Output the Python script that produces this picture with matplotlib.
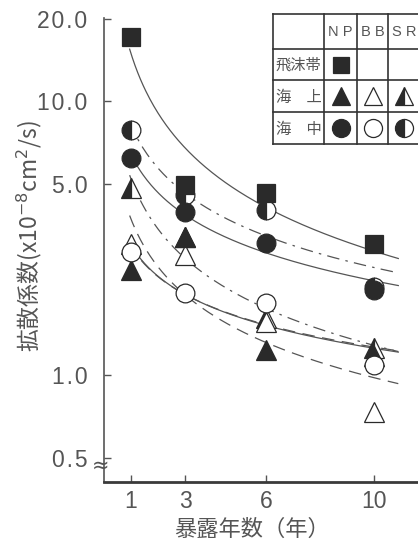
import numpy as np
import matplotlib
matplotlib.use("Agg")
import matplotlib.pyplot as plt
from matplotlib.ticker import FixedLocator, NullLocator, FuncFormatter

plt.rcParams['font.family'] = ['Liberation Sans', 'DejaVu Sans']

# exposure years
years = np.array([1, 3, 6, 10])

# diffusion coefficient (x10^-8 cm2/s)
np_splash = [17.1, 4.94, 4.61, 3.0]   # NP 飛沫帯
np_air = [2.42, 3.2, 1.23, 1.17]      # NP 海上
bb_air = [3.0, 2.74, 1.56, 0.73]      # BB 海上
sr_air = [4.81, 3.2, 1.62, 1.25]      # SR 海上 (x=3 hidden under NP)
np_sea = [6.19, 3.93, 3.03, 2.05]     # NP 海中
bb_sea = [2.81, 2.0, 1.83, 1.09]      # BB 海中
sr_sea = [7.84, 4.54, 4.0, 2.1]       # SR 海中

y_ticks = [0.5, 1.0, 5.0, 10.0, 20.0]
x_ticks = [1, 3, 6, 10]
sites = ['N P', 'B B', 'S R']
zones = ['飛沫帯', '海　上', '海　中']

DARK = '#2a2a2a'
GRAY = '#555555'
CJK = ['Noto Sans CJK JP', 'DejaVu Sans']

DASHED = (0, (10, 6))
DASHDOT = (0, (10, 5, 2, 5))

# (values, marker, fill, line style); fill: 'full', 'none', 'left'
series = [
    (sr_air, '^', 'left', DASHDOT),
    (bb_air, '^', 'none', DASHED),
    (np_air, '^', 'full', '-'),
    (bb_sea, 'o', 'none', DASHED),
    (sr_sea, 'o', 'left', DASHDOT),
    (np_sea, 'o', 'full', '-'),
    (np_splash, 's', 'full', '-'),
]


def marker_kw(marker, fill, size):
    kw = dict(marker=marker, markersize=size, markeredgecolor=DARK,
              markeredgewidth=0.9, linestyle='none')
    if fill == 'full':
        kw.update(markerfacecolor=DARK)
    elif fill == 'none':
        kw.update(markerfacecolor='white')
    else:
        kw.update(markerfacecolor=DARK, fillstyle='left',
                  markerfacecoloralt='white')
    return kw


def spaced(v, pos):
    # the scanned labels are set with wide letter spacing
    return '\u200a'.join('%.1f' % v)


fig = plt.figure(figsize=(4.18, 5.46), dpi=100)
ax = fig.add_axes([104 / 418, 64 / 546, 314 / 418, 464 / 546])
ax.set_yscale('log')
ax.set_xlim(0, 314 / 27)
ax.set_ylim(0.407, 20.1)

t = np.linspace(0.95, 10.9, 200)
for vals, marker, fill, ls in series:
    coef = np.polyfit(np.log10(years), np.log10(vals), 1)
    ax.plot(t, 10 ** np.polyval(coef, np.log10(t)), color=GRAY,
            lw=0.9, linestyle=ls, zorder=2)
for vals, marker, fill, ls in series:
    size = 13 if marker == 's' else 14 if marker == '^' else 13.5
    ax.plot(years, vals, zorder=3, **marker_kw(marker, fill, size))

ax.yaxis.set_major_locator(FixedLocator(y_ticks))
ax.yaxis.set_minor_locator(NullLocator())
ax.yaxis.set_major_formatter(FuncFormatter(spaced))
ax.set_xticks(x_ticks)
ax.tick_params(direction='in', length=5, width=1, color=GRAY,
               labelcolor=GRAY, labelsize=16.5, pad=12)
ax.tick_params(axis='x', pad=6)
for side in ('top', 'right'):
    ax.spines[side].set_visible(False)
ax.spines['left'].set_color(GRAY)
ax.spines['left'].set_linewidth(1.2)
ax.spines['bottom'].set_color('#3a3a3a')
ax.spines['bottom'].set_linewidth(2)

# axis break mark
ax.text(-0.012, 0.036, '≈', transform=ax.transAxes, ha='center',
        va='center', fontsize=15, color=GRAY, family='DejaVu Sans')

fig.text(29 / 418, 1 - 236 / 546, '拡散係数(x10$^{-8}$cm$^{2}$/s)',
         rotation=90, ha='center', va='center', fontsize=16.5, color=GRAY,
         family='Noto Sans CJK JP')
fig.text(252 / 418, 1 - 529 / 546, '暴露年数（年）', ha='center',
         va='center', fontsize=16, color=GRAY, family=CJK)

# legend table
tab = fig.add_axes([273 / 418, 1 - 144 / 546, 147 / 418, 130 / 546])
tab.set_xlim(273, 420)
tab.set_ylim(144, 14)
tab.axis('off')
col_edges = [273, 324, 357, 388, 420]
row_edges = [14, 49, 80, 112, 144]
for xe in col_edges:
    tab.plot([xe, xe], [row_edges[0], row_edges[-1]], color='#333333',
             lw=1.2, clip_on=False)
for ye in row_edges:
    tab.plot([col_edges[0], col_edges[-1]], [ye, ye], color='#333333',
             lw=1.2, clip_on=False)
col_mid = [(a + b) / 2 for a, b in zip(col_edges[1:], col_edges[2:])]
row_mid = [(a + b) / 2 for a, b in zip(row_edges[1:], row_edges[2:])]
for xm, s in zip(col_mid, sites):
    tab.text(xm, 32, s, ha='center', va='center', fontsize=10.5,
             color=GRAY)
for ym, z in zip(row_mid, zones):
    tab.text(298.5, ym + 1, z, ha='center', va='center', fontsize=11,
             color=GRAY, family=CJK)

cells = [
    (0, 0, 's', 'full'),
    (0, 1, '^', 'full'), (1, 1, '^', 'none'), (2, 1, '^', 'left'),
    (0, 2, 'o', 'full'), (1, 2, 'o', 'none'), (2, 2, 'o', 'left'),
]
for ci, ri, marker, fill in cells:
    size = 12 if marker == 's' else 13
    tab.plot([col_mid[ci]], [row_mid[ri]], **marker_kw(marker, fill, size))

fig.savefig('out.png', dpi=100)
